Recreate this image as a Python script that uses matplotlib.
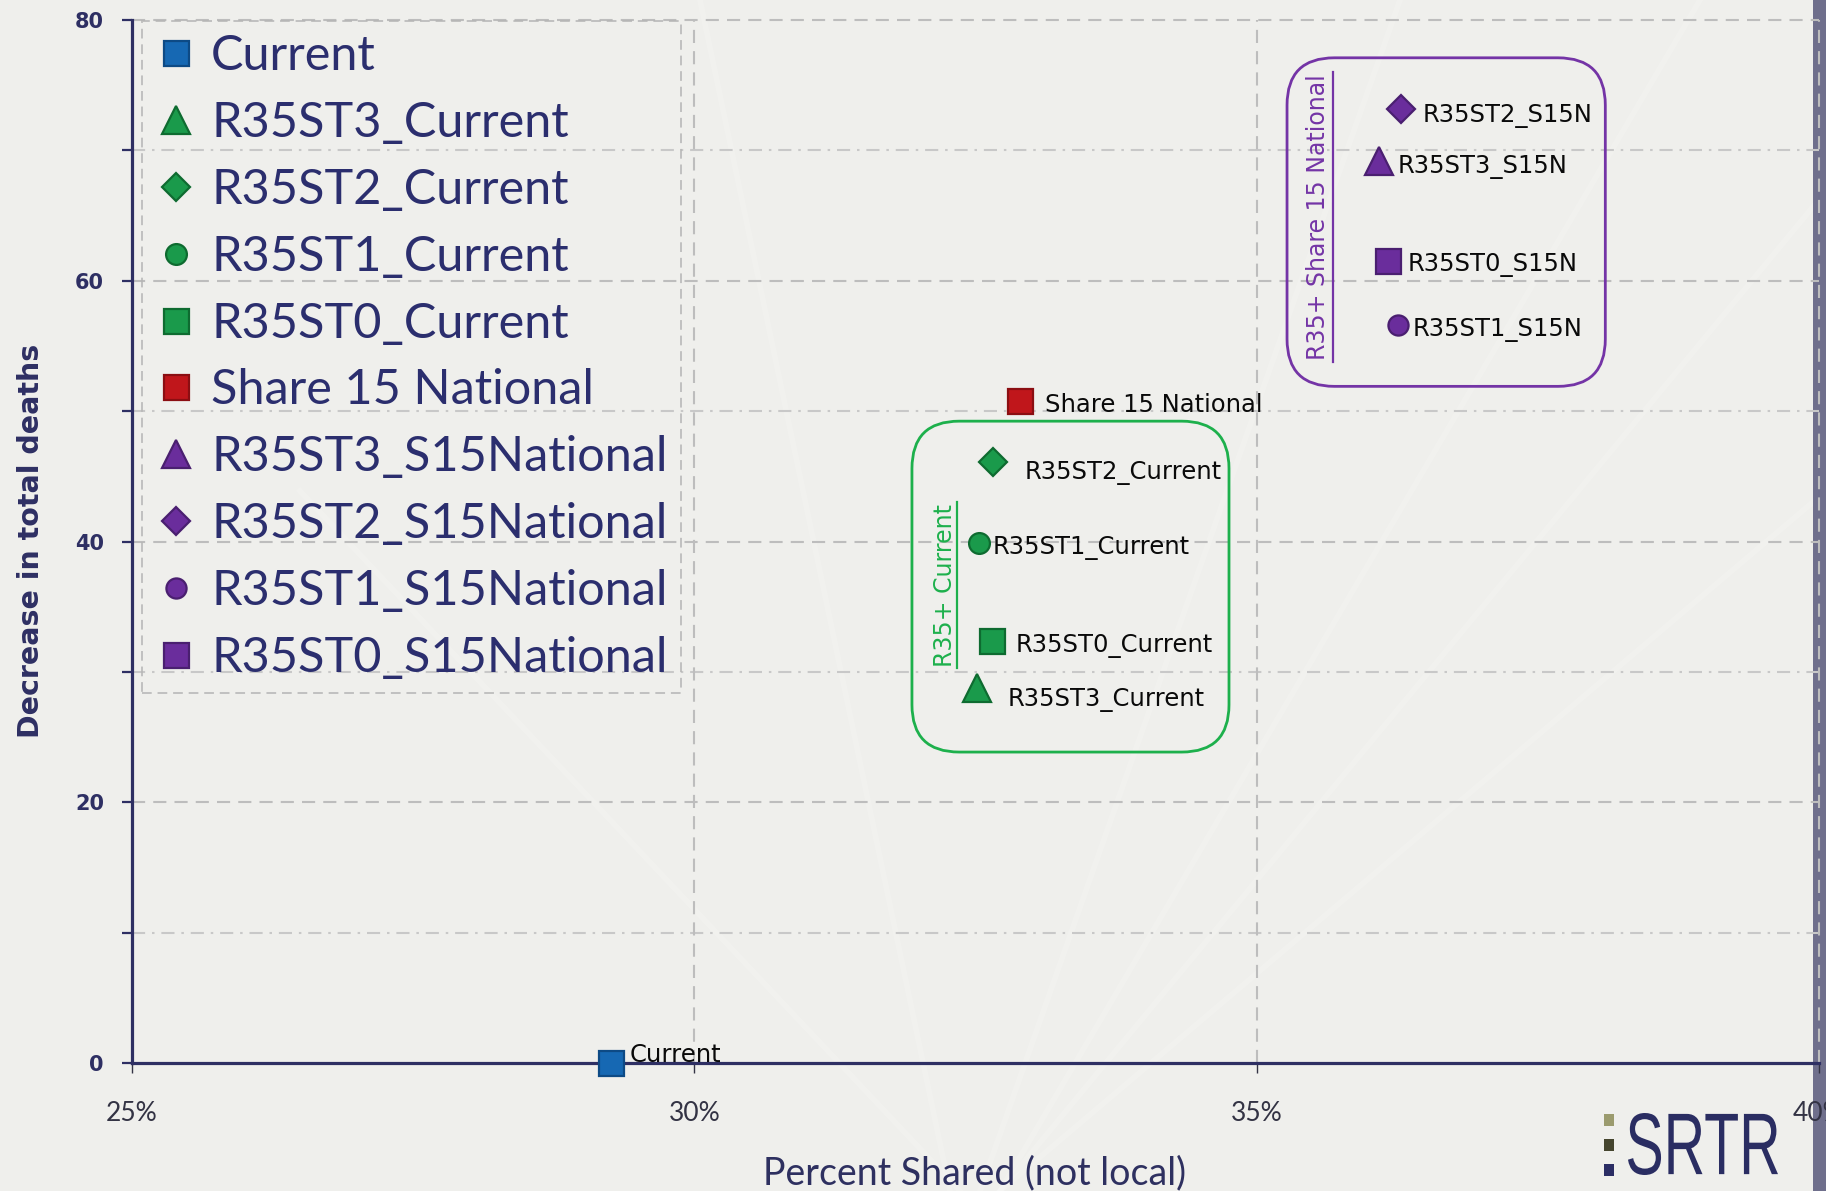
import matplotlib
matplotlib.use("Agg")
import matplotlib.pyplot as plt
from matplotlib.patches import FancyBboxPatch, Rectangle, PathPatch
from matplotlib.lines import Line2D
from matplotlib.textpath import TextPath
from matplotlib.font_manager import FontProperties
from matplotlib.transforms import Affine2D
import matplotlib.ticker as mticker

# ---------------- data ----------------
series_names = ["Current", "R35ST3_Current", "R35ST2_Current", "R35ST1_Current",
                "R35ST0_Current", "Share 15 National", "R35ST3_S15National",
                "R35ST2_S15National", "R35ST1_S15National", "R35ST0_S15National"]
point_labels = ["Current", "R35ST3_Current", "R35ST2_Current", "R35ST1_Current",
                "R35ST0_Current", "Share 15 National", "R35ST3_S15N",
                "R35ST2_S15N", "R35ST1_S15N", "R35ST0_S15N"]
pct_shared = [29.26, 32.51, 32.66, 32.53, 32.65, 32.90, 36.09, 36.28, 36.26, 36.17]
death_decrease = [0.0, 28.8, 46.1, 39.9, 32.4, 50.8, 69.2, 73.2, 56.6, 61.5]
x_ticks = [25, 30, 35, 40]
x_tick_labels = ["25%", "30%", "35%", "40%"]
y_ticks = [0, 20, 40, 60, 80]
y_minor_ticks = [10, 30, 50, 70]
group_titles = ["R35+ Current", "R35+ Share 15 National"]

# ---------------- styles ----------------
BG = "#EFEFEC"
NAVY = "#2E2F63"
markers = ["s", "^", "D", "o", "s", "s", "^", "D", "o", "s"]
msizes = [18, 19.5, 14, 15, 18, 18, 19.5, 14, 14.5, 18]
face = ["#1668B3", "#1A9A4B", "#1A9A4B", "#1A9A4B", "#1A9A4B", "#C0161B",
        "#6A2D9C", "#6A2D9C", "#6A2D9C", "#6A2D9C"]
edge = ["#0D4A85", "#0E6B30", "#0E6B30", "#0E6B30", "#0E6B30", "#8B0E12",
        "#4A1F70", "#4A1F70", "#4A1F70", "#4A1F70"]
# label offsets in pixels (dx right, dy of text centre below marker centre)
label_off_px = [(19, -10), (31, 10), (31, 8), (14, 2), (23, 3), (25, 2),
                (18, 3), (22, 4), (14, 2), (19, 1)]

W, H = 1826, 1191
fig = plt.figure(figsize=(W / 100, H / 100), dpi=100)
fig.patch.set_facecolor(BG)

# faint decorative streaks in the background
for (x0, y0, x1, y1) in [(1000, 0, 1826, 1000), (1000, 0, 1700, 1191), (980, 0, 1400, 1191),
                         (950, 0, 700, 1191), (960, 0, 300, 700), (1000, 0, 1826, 700)]:
    fig.add_artist(Line2D([x0 / W, x1 / W], [y0 / H, y1 / H], transform=fig.transFigure,
                          color="white", lw=4, alpha=0.15, zorder=0))

# dark strip on right edge
fig.add_artist(Rectangle((1813 / W, 0), (W - 1813) / W, 1, transform=fig.transFigure,
                         facecolor="#6F6F8C", edgecolor="none", zorder=0))

left, right = 132 / W, 1819 / W
bottom, top = 1 - 1063 / H, 1 - 20 / H
ax = fig.add_axes([left, bottom, right - left, top - bottom])
ax.set_facecolor("none")
ax.set_xlim(25, 40)
ax.set_ylim(0, 80)

# grid
for y in y_ticks[1:]:
    ax.axhline(y, color="#BDBDBD", lw=1.5, ls=(0, (6.3, 3.9)), zorder=1, clip_on=False)
for y in y_minor_ticks:
    ax.axhline(y, color="#C8C8C8", lw=1.5, ls=(0, (6.3, 3.3, 1.2, 3.3)), zorder=1)
for x in x_ticks[1:]:
    ax.axvline(x, color="#BDBDBD", lw=1.5, ls=(0, (6.3, 3.9)), zorder=1, clip_on=False)

for s in ["top", "right"]:
    ax.spines[s].set_visible(False)
for s in ["left", "bottom"]:
    ax.spines[s].set_color(NAVY)
    ax.spines[s].set_linewidth(2.3)
    ax.spines[s].set_zorder(2)

ax.set_xticks(x_ticks)
ax.set_xticklabels(x_tick_labels)
ax.set_yticks(y_ticks)
ax.yaxis.set_minor_locator(mticker.FixedLocator(y_minor_ticks))
ax.tick_params(axis="y", which="both", direction="out", length=7.2, width=1.6,
               color=NAVY, pad=13)
ax.tick_params(axis="y", which="major", labelsize=15, labelcolor=NAVY)
for t in ax.get_yticklabels():
    t.set_fontweight("bold")
ax.tick_params(axis="x", which="major", direction="out", length=7.2, width=1.0,
               color="#333344", pad=20, labelsize=19, labelcolor="#333344")
for t in ax.get_xticklabels():
    t.set_fontfamily("Lato")

# points
lbl_pt = 17.5
cap_px = 0.73 * lbl_pt / 0.72
for i in range(len(series_names)):
    ax.plot([pct_shared[i]], [death_decrease[i]], linestyle="none", marker=markers[i],
            markersize=msizes[i], markerfacecolor=face[i], markeredgecolor=edge[i],
            markeredgewidth=1.6, label=series_names[i], zorder=5, clip_on=False)
    dx, dy = label_off_px[i]
    ax.annotate(point_labels[i], (pct_shared[i], death_decrease[i]),
                xytext=(dx * 0.72, -(dy + cap_px / 2) * 0.72), textcoords="offset points",
                ha="left", va="baseline", fontsize=lbl_pt, color="#0A0A0A",
                family="DejaVu Sans", zorder=6, annotation_clip=False)

# group boxes (data coordinates)
asp = 8.63
for (x0, y0, x1, y1), col in [((31.935, 23.85, 34.754, 49.23), "#1DB04C"),
                              ((35.27, 51.9, 38.10, 77.1), "#7434A6")]:
    ax.add_patch(FancyBboxPatch((x0, y0), x1 - x0, y1 - y0,
                                boxstyle="round,pad=0,rounding_size=0.42",
                                mutation_aspect=asp, facecolor="none", edgecolor=col,
                                lw=2.0, zorder=4))

# rotated group titles with underline
for title, (tx, ty), (lx, ly0, ly1), col in [
        (group_titles[0], (32.229, 36.66), (32.335, 30.29, 43.02), "#1DB04C"),
        (group_titles[1], (35.545, 64.88), (35.678, 53.76, 76.0), "#7434A6")]:
    ax.text(tx, ty, title, rotation=90, ha="center", va="center", fontsize=17,
            color=col, family="DejaVu Sans", zorder=6)
    ax.plot([lx, lx], [ly0, ly1], color=col, lw=1.6, zorder=6)

# legend
leg_fs = 35
leg = ax.legend(loc="upper left", bbox_to_anchor=(142 / W, 1 - 21 / H),
                bbox_transform=fig.transFigure, frameon=True, fancybox=False,
                prop={"family": "Lato", "size": leg_fs}, labelcolor="#2B2E6E",
                handlelength=0.85, handletextpad=0.3, borderpad=0.27,
                labelspacing=0.47, borderaxespad=0, markerscale=1.0, numpoints=1)
fr = leg.get_frame()
fr.set_facecolor("none")
fr.set_edgecolor("#B5B5B5")
fr.set_linestyle((0, (5, 3)))
fr.set_linewidth(1.4)
leg.set_zorder(3)

# axis titles
fig.text(31 / W, 1 - 541 / H, "Decrease in total deaths", rotation=90, ha="center",
         va="center", fontsize=20.5, fontweight="bold", color=NAVY, family="DejaVu Sans")
fig.text(975 / W, 1 - 1184 / H, "Percent Shared (not local)", ha="center", va="baseline",
         fontsize=27, color="#2E3060", family="Lato")

# logo
tp = TextPath((0, 0), "SRTR", size=100, prop=FontProperties(family="Liberation Sans"))
ext = tp.get_extents()
sx = (150 / W) / ext.width
sy = (62 / H) / ext.height
tr = Affine2D().translate(-ext.x0, -ext.y0).scale(sx, sy).translate(1628 / W, 1 - 1175 / H)
fig.add_artist(PathPatch(tr.transform_path(tp), transform=fig.transFigure,
                         facecolor="#2A2D62", edgecolor="none", zorder=2))
for yy, c in [(1120, "#9B9B6E"), (1145, "#45452E"), (1170, "#2B2D64")]:
    fig.add_artist(Rectangle((1604 / W, 1 - (yy + 6) / H), 10 / W, 12 / H,
                             transform=fig.transFigure, facecolor=c, edgecolor="none"))

fig.savefig("out.png", dpi=100, facecolor=BG)
